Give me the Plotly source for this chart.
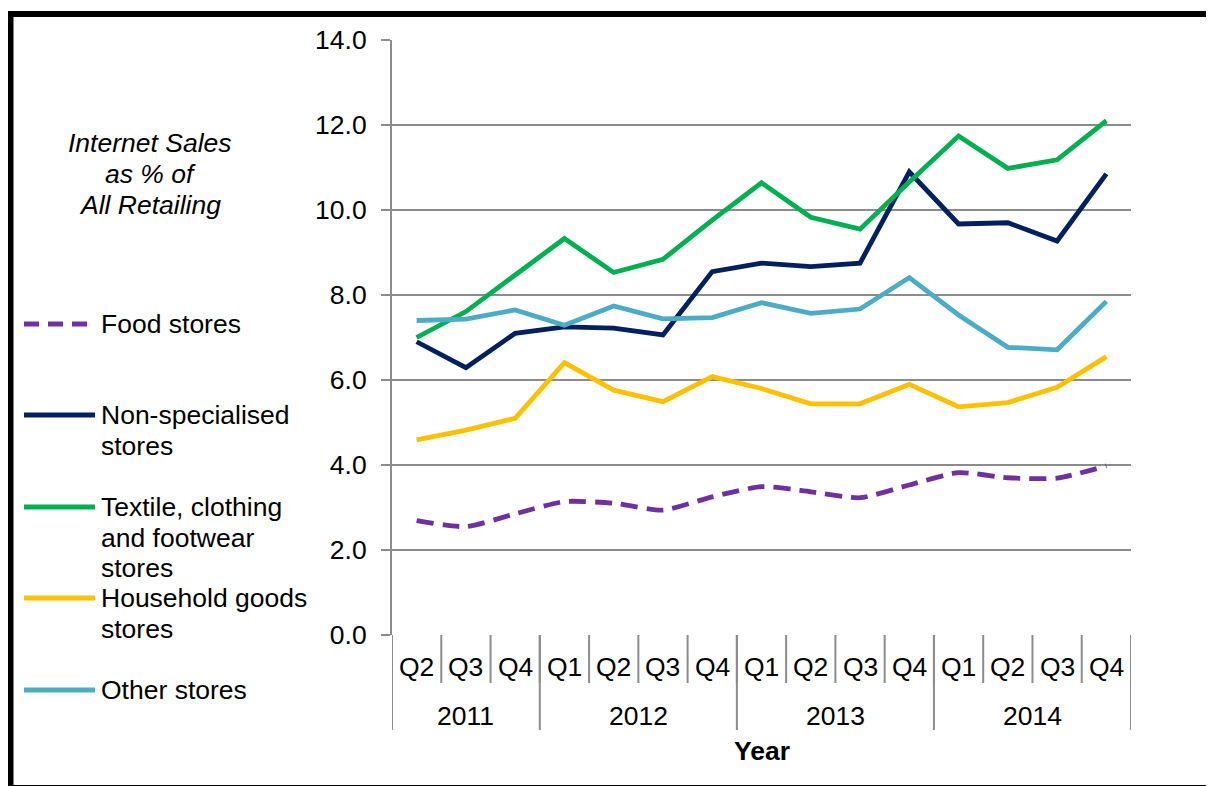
import plotly.graph_objects as go

# ---- data ----
quarters = ["Q2", "Q3", "Q4", "Q1", "Q2", "Q3", "Q4", "Q1", "Q2", "Q3", "Q4", "Q1", "Q2", "Q3", "Q4"]
years = ["2011", "2012", "2013", "2014"]
year_counts = [3, 4, 4, 4]

food = [2.69, 2.55, 2.85, 3.14, 3.10, 2.94, 3.25, 3.49, 3.37, 3.23, 3.53, 3.82, 3.70, 3.69, 3.98]
non_spec = [6.90, 6.29, 7.10, 7.25, 7.22, 7.06, 8.55, 8.75, 8.67, 8.75, 10.90, 9.67, 9.70, 9.27, 10.85]
textile = [7.00, 7.61, 8.47, 9.33, 8.53, 8.84, 9.76, 10.64, 9.83, 9.55, 10.66, 11.74, 10.98, 11.18, 12.10]
household = [4.59, 4.82, 5.10, 6.41, 5.76, 5.49, 6.08, 5.80, 5.44, 5.44, 5.90, 5.37, 5.47, 5.83, 6.55]
other = [7.40, 7.43, 7.65, 7.29, 7.74, 7.44, 7.47, 7.82, 7.57, 7.67, 8.41, 7.53, 6.77, 6.71, 7.85]

series_names = ["Food stores", "Non-specialised stores", "Textile, clothing and footwear stores",
                "Household goods stores", "Other stores"]
legend_text_lines = [["Food stores"], ["Non-specialised", "stores"],
                     ["Textile, clothing", "and footwear", "stores"],
                     ["Household goods", "stores"], ["Other stores"]]
series_values = [food, non_spec, textile, household, other]
series_colors = ["#7030A0", "#002060", "#00B050", "#FFC000", "#4BACC6"]
y_title_lines = ["Internet Sales", "as % of", "All Retailing"]

OFF = 8  # page body margin
W, H = 1214 - OFF, 786 - OFF
L, R, T, B = 392, 1131, 40, 635  # plot area in screenshot pixels
pw, ph = R - L, B - T


def px_x(p):
    return (p - L) / pw


def px_y(p):
    return (B - p) / ph


FONT = "Liberation Sans, Arial, sans-serif"
FS = 26.5
GRID = "#8C8C8C"

x = list(range(len(quarters)))
fig = go.Figure()
for i, (name, vals, col) in enumerate(zip(series_names, series_values, series_colors)):
    if i == 0:
        line = dict(color=col, width=4.8, dash="17px,9px", shape="spline", smoothing=0.6)
    else:
        line = dict(color=col, width=4.8)
    fig.add_trace(go.Scatter(x=x, y=vals, mode="lines", name=name,
                             line=line, showlegend=False, hoverinfo="y"))

shapes = []
annotations = []


def txt(xv, yv, text, xref="paper", xanchor="center", italic=False):
    annotations.append(dict(xref=xref, yref="paper", x=xv, y=yv, text=text, showarrow=False,
                            xanchor=xanchor, yanchor="middle",
                            font=dict(size=FS, color="black", family=FONT,
                                      style="italic" if italic else "normal")))


# quarter dividers
for i in range(len(quarters) - 1):
    shapes.append(dict(type="line", xref="x", yref="paper", x0=i + 0.5, x1=i + 0.5,
                       y0=0, y1=px_y(683), line=dict(color=GRID, width=2)))
# year dividers & labels
start = 0
bounds = [-0.5]
for yr, n in zip(years, year_counts):
    txt(start + (n - 1) / 2, px_y(716), yr, xref="x")
    start += n
    bounds.append(start - 0.5)
for b in bounds:
    shapes.append(dict(type="line", xref="x", yref="paper", x0=b, x1=b,
                       y0=0, y1=px_y(730), line=dict(color=GRID, width=2)))
# quarter labels
for i, q in enumerate(quarters):
    txt(i, px_y(667), q, xref="x")

# x title
txt(0.5, px_y(751), "<b>Year</b>")
# y title
for k, t in enumerate(y_title_lines):
    txt(px_x(150), px_y(143 + 31 * k), t, italic=True)

# manual legend
legend_y = [324, 415, 507, 598, 690]
for i, (lines, col, ly) in enumerate(zip(legend_text_lines, series_colors, legend_y)):
    shapes.append(dict(type="line", xref="paper", yref="paper", x0=px_x(24), x1=px_x(95),
                       y0=px_y(ly), y1=px_y(ly),
                       line=dict(color=col, width=5, dash="15px,9px" if i == 0 else "solid")))
    for k, t in enumerate(lines):
        txt(px_x(99), px_y(ly + 30.5 * k), t, xanchor="left")

# outer black border
shapes.append(dict(type="rect", xref="paper", yref="paper", x0=px_x(10.5), x1=px_x(1211.5),
                   y0=px_y(788), y1=px_y(14), line=dict(color="black", width=6), layer="below"))

fig.update_layout(
    width=W, height=H,
    margin=dict(l=L - OFF, r=W - (R - OFF), t=T - OFF, b=H - (B - OFF), pad=0),
    paper_bgcolor="white", plot_bgcolor="white",
    font=dict(family=FONT, size=FS, color="black"),
    shapes=shapes, annotations=annotations,
    xaxis=dict(range=[-0.5, len(quarters) - 0.5], showgrid=False, zeroline=False,
               showticklabels=False, showline=False, fixedrange=True),
    yaxis=dict(range=[0, 14], dtick=2, tickformat=".1f", showgrid=True, gridcolor=GRID,
               gridwidth=2, zeroline=False, showline=True, linecolor=GRID, linewidth=2,
               ticks="outside", ticklen=9, tickwidth=2, tickcolor=GRID,
               ticklabelstandoff=9, tickfont=dict(size=FS, color="black", family=FONT)),
)

fig.write_html("out.html")
